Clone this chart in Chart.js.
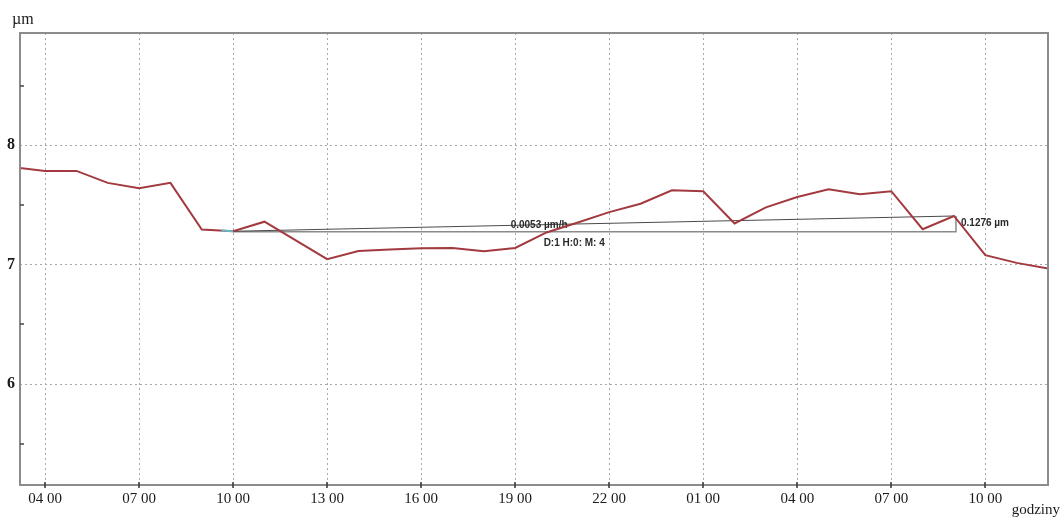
<!DOCTYPE html>
<html><head><meta charset="utf-8">
<script src="https://cdn.jsdelivr.net/npm/chart.js@4"></script>
<style>html,body{margin:0;padding:0;background:#fff}canvas{display:block}</style>
</head><body>
<canvas id="c" width="1062" height="517"></canvas>
<script>
// hourly readings (continuous hour count from day 1, 00:00)
const hours = [3,4,5,6,7,8,9,10,11,13,14,15,16,17,18,19,20,21,22,23,24,25,26,27,28,29,30,31,32,33,34,35,36];
const values = [7.815,7.785,7.785,7.685,7.64,7.685,7.295,7.28,7.36,7.046,7.115,7.127,7.138,7.14,7.113,7.14,7.27,7.353,7.44,7.51,7.623,7.615,7.345,7.48,7.567,7.632,7.59,7.615,7.297,7.4076,7.08,7.015,6.968];

const xTicks = [4,7,10,13,16,19,22,25,28,31,34];
const xTickLabels = ['04 00','07 00','10 00','13 00','16 00','19 00','22 00','01 00','04 00','07 00','10 00'];
const yTicks = [6,7,8];
const yMinorTicks = [5.5,6.5,7.5,8.5];

// measurement between two readings
const measureFrom = 10;
const measureTo = 33;
const measureRate = '0.0053 µm/h';
const measureSpan = 'D:1 H:0: M: 4';
const measureDelta = '0.1276 µm';

const serif = '"Liberation Serif", "Times New Roman", serif';
const sans = '"Liberation Sans", Arial, sans-serif';

const frame = {
  id: 'frame',
  beforeDatasetsDraw(chart) {
    const {ctx, scales: {x, y}} = chart;
    const iFrom = hours.indexOf(measureFrom), iTo = hours.indexOf(measureTo);
    const x0 = x.getPixelForValue(measureFrom), y0 = y.getPixelForValue(values[iFrom]);
    const x1 = x.getPixelForValue(measureTo), y1 = y.getPixelForValue(values[iTo]);
    ctx.save();
    // baseline and vertical delta
    ctx.strokeStyle = '#8a8a8a'; ctx.lineWidth = 1.5;
    ctx.beginPath(); ctx.moveTo(x0, y0 + 0.5); ctx.lineTo(x1 + 2, y0 + 0.5); ctx.lineTo(x1 + 2, y1); ctx.stroke();
    // trend line
    ctx.strokeStyle = '#4a4a4a'; ctx.lineWidth = 1.2;
    ctx.beginPath(); ctx.moveTo(x0, y0); ctx.lineTo(x1, y1); ctx.stroke();
    // labels
    ctx.font = 'bold 10px ' + sans; ctx.fillStyle = '#2a2a2a'; ctx.textBaseline = 'middle'; ctx.textAlign = 'left';
    const lx = x0 + (x1 - x0) * 0.385;
    ctx.fillText(measureRate, lx, y0 - 6);
    ctx.fillText(measureSpan, lx + 33, y0 + 12);
    ctx.fillText(measureDelta, x1 + 7, (y0 + y1) / 2);
    ctx.restore();
  },
  afterDatasetsDraw(chart) {
    const {ctx, chartArea: a, scales: {x, y}} = chart;
    const iFrom = hours.indexOf(measureFrom);
    const x0 = x.getPixelForValue(measureFrom), y0 = y.getPixelForValue(values[iFrom]);
    ctx.save();
    // highlighted piece of the trace before the start reading
    const xp = x.getPixelForValue(hours[iFrom - 1]), yp = y.getPixelForValue(values[iFrom - 1]);
    ctx.strokeStyle = '#6ab8c4'; ctx.lineWidth = 2;
    ctx.beginPath(); ctx.moveTo(xp + (x0 - xp) * 0.62, yp + (y0 - yp) * 0.62); ctx.lineTo(x0, y0); ctx.stroke();
    // plot frame
    ctx.strokeStyle = '#8c8c8c'; ctx.lineWidth = 2;
    ctx.strokeRect(a.left, a.top, a.right - a.left, a.bottom - a.top);
    // tick marks on the time axis
    ctx.strokeStyle = '#333'; ctx.lineWidth = 1.5;
    xTicks.forEach(h => {
      const px = Math.round(x.getPixelForValue(h));
      ctx.beginPath(); ctx.moveTo(px, a.bottom - 3); ctx.lineTo(px, a.bottom + 3); ctx.stroke();
    });
    // minor marks on the value axis
    ctx.strokeStyle = '#444'; ctx.lineWidth = 1.5;
    yMinorTicks.forEach(v => {
      const py = Math.round(y.getPixelForValue(v));
      ctx.beginPath(); ctx.moveTo(a.left, py); ctx.lineTo(a.left + 4, py); ctx.stroke();
    });
    // axis captions
    ctx.fillStyle = '#1a1a1a'; ctx.textBaseline = 'middle';
    ctx.font = '16px ' + serif; ctx.textAlign = 'left';
    ctx.fillText('µm', a.left - 8, a.top - 13);
    ctx.font = '15px ' + serif; ctx.textAlign = 'right';
    ctx.fillText('godziny', a.right + 12, a.bottom + 25);
    ctx.restore();
  }
};

new Chart(document.getElementById('c'), {
  type: 'line',
  data: {
    datasets: [{
      data: hours.map((h, i) => ({x: h, y: values[i]})),
      borderColor: '#a23a3f',
      borderWidth: 2,
      pointRadius: 0,
      tension: 0
    }]
  },
  options: {
    responsive: false,
    animation: false,
    events: [],
    layout: {padding: {left: 0, top: 33, right: 14, bottom: 0}},
    plugins: {legend: {display: false}, tooltip: {enabled: false}},
    scales: {
      x: {
        type: 'linear', min: 3.2, max: 36,
        afterBuildTicks: s => { s.ticks = xTicks.map(v => ({value: v})); },
        afterFit: s => { s.height = 32; },
        ticks: {
          autoSkip: false, maxRotation: 0, padding: 5, color: '#1a1a1a',
          font: {family: serif, size: 15},
          callback: (v) => xTickLabels[xTicks.indexOf(v)]
        },
        grid: {color: '#a8a8a8', lineWidth: 1, drawTicks: false},
        border: {display: false, dash: [2, 3]}
      },
      y: {
        min: 5.155, max: 8.94,
        afterBuildTicks: s => { s.ticks = yTicks.map(v => ({value: v})); },
        afterFit: s => { s.width = 20; },
        ticks: {padding: 5, color: '#1a1a1a', font: {family: serif, size: 16, weight: 'bold'}},
        grid: {color: '#a8a8a8', lineWidth: 1, drawTicks: false},
        border: {display: false, dash: [2, 3]}
      }
    }
  },
  plugins: [frame]
});
</script>
</body></html>
